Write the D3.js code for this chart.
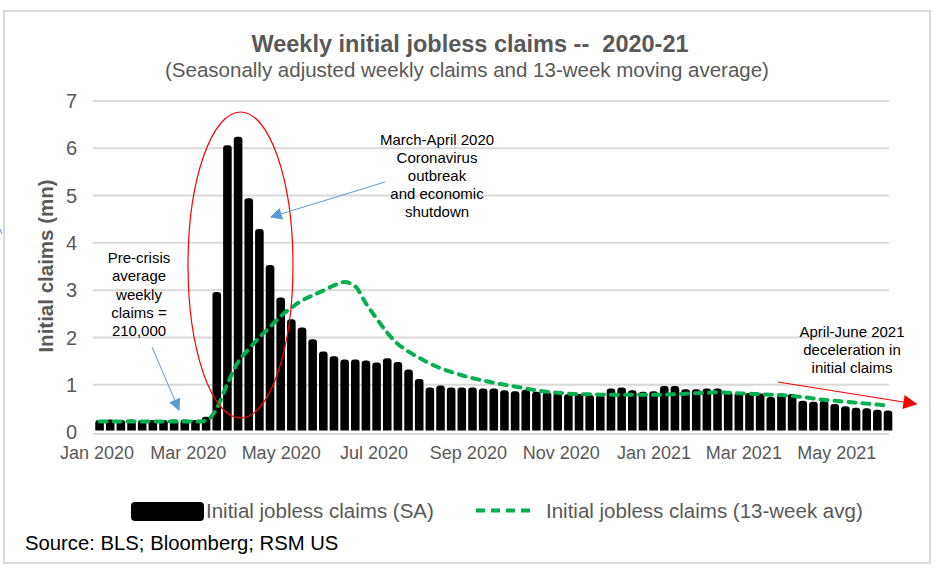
<!DOCTYPE html>
<html><head><meta charset="utf-8">
<script src="https://cdn.jsdelivr.net/npm/d3@7"></script>
<style>
html,body{margin:0;padding:0;background:#fff;}
svg{display:block;font-family:"Liberation Sans",Arial,sans-serif;}
</style></head>
<body>
<svg id="chart" width="937" height="568"></svg>
<script>
// ---- data ----
const weeks = [
"2020-01-04","2020-01-11","2020-01-18","2020-01-25","2020-02-01","2020-02-08","2020-02-15","2020-02-22","2020-02-29","2020-03-07",
"2020-03-14","2020-03-21","2020-03-28","2020-04-04","2020-04-11","2020-04-18","2020-04-25","2020-05-02","2020-05-09","2020-05-16",
"2020-05-23","2020-05-30","2020-06-06","2020-06-13","2020-06-20","2020-06-27","2020-07-04","2020-07-11","2020-07-18","2020-07-25",
"2020-08-01","2020-08-08","2020-08-15","2020-08-22","2020-08-29","2020-09-05","2020-09-12","2020-09-19","2020-09-26","2020-10-03",
"2020-10-10","2020-10-17","2020-10-24","2020-10-31","2020-11-07","2020-11-14","2020-11-21","2020-11-28","2020-12-05","2020-12-12",
"2020-12-19","2020-12-26","2021-01-02","2021-01-09","2021-01-16","2021-01-23","2021-01-30","2021-02-06","2021-02-13","2021-02-20",
"2021-02-27","2021-03-06","2021-03-13","2021-03-20","2021-03-27","2021-04-03","2021-04-10","2021-04-17","2021-04-24","2021-05-01",
"2021-05-08","2021-05-15","2021-05-22","2021-05-29","2021-06-05"];
const claimsSA = [
0.21,0.22,0.21,0.22,0.21,0.21,0.21,0.22,0.22,0.21,
0.28,2.92,6.02,6.20,4.90,4.25,3.49,2.80,2.34,2.17,
1.92,1.66,1.56,1.49,1.49,1.47,1.43,1.52,1.44,1.28,
1.08,0.90,0.94,0.90,0.90,0.90,0.88,0.88,0.84,0.82,
0.85,0.81,0.80,0.78,0.755,0.76,0.74,0.74,0.88,0.90,
0.84,0.81,0.82,0.93,0.93,0.86,0.86,0.88,0.88,0.81,
0.80,0.78,0.77,0.70,0.77,0.76,0.62,0.60,0.62,0.55,
0.50,0.47,0.46,0.43,0.41];
const claimsAvg13 = [
0.22,0.22,0.22,0.22,0.22,0.22,0.22,0.22,0.22,0.22,
0.24,0.50,1.02,1.48,1.75,2.00,2.22,2.45,2.63,2.78,
2.89,2.99,3.10,3.17,3.08,2.72,2.40,2.10,1.86,1.70,
1.57,1.45,1.35,1.27,1.20,1.14,1.09,1.04,1.00,0.96,
0.92,0.88,0.85,0.83,0.81,0.80,0.80,0.79,0.79,0.79,
0.79,0.79,0.79,0.79,0.80,0.81,0.82,0.83,0.84,0.83,
0.82,0.81,0.80,0.79,0.78,0.76,0.74,0.71,0.68,0.66,
0.64,0.62,0.60,0.58,0.55];
const yTicks = [0,1,2,3,4,5,6,7];
const xTickDates = ["2020-01-01","2020-03-01","2020-05-01","2020-07-01","2020-09-01","2020-11-01","2021-01-01","2021-03-01","2021-05-01"];
const seriesNames = ["Initial jobless claims (SA)","Initial jobless claims (13-week avg)"];

// ---- drawing ----
const parse = d3.timeParse("%Y-%m-%d");
const fmt = d3.timeFormat("%b %Y");
const svg = d3.select("#chart");
const grey = "#595959";

// outer border
svg.append("rect").attr("x",4).attr("y",11).attr("width",926).attr("height",552)
  .attr("fill","none").attr("stroke","#d9d9d9").attr("stroke-width",2);

const x = d3.scaleTime().domain([parse("2020-01-01"), parse("2021-06-05")]).range([95, 888]);
const y = d3.scaleLinear().domain([0,7]).range([432,101]);
const plotL = 93, plotR = 889;

// gridlines
svg.append("g").selectAll("line").data(yTicks.filter(d=>d>0)).join("line")
  .attr("x1",plotL).attr("x2",plotR).attr("y1",d=>y(d)).attr("y2",d=>y(d))
  .attr("stroke","#d9d9d9").attr("stroke-width",2);
// baseline
svg.append("line").attr("x1",plotL).attr("x2",plotR).attr("y1",434).attr("y2",434)
  .attr("stroke","#d9d9d9").attr("stroke-width",2);

// y tick labels
svg.append("g").selectAll("text").data(yTicks).join("text")
  .attr("x",77).attr("y",d=>y(d)).attr("dy","0.36em").attr("text-anchor","end")
  .attr("font-size",20).attr("fill",grey).text(d=>d);

// y axis title
svg.append("text").attr("transform","translate(53,266) rotate(-90)")
  .attr("text-anchor","middle").attr("font-size",20.5).attr("font-weight","bold")
  .attr("fill",grey).text("Initial claims (mn)");

// x tick labels
svg.append("g").selectAll("text").data(xTickDates).join("text")
  .attr("x",d=>x(parse(d))+2).attr("y",459).attr("text-anchor","middle")
  .attr("font-size",18).attr("fill",grey).text(d=>fmt(parse(d)));

// bars
const bw = 8.6, r = 3.2, bottom = 430.5;
svg.append("g").selectAll("path").data(weeks.map((w,i)=>({d:parse(w),v:claimsSA[i]}))).join("path")
  .attr("fill","#000")
  .attr("d",p=>{
    const cx = x(p.d), x0 = cx-bw/2, x1 = cx+bw/2, top = y(p.v)-2;
    return `M${x0},${bottom}L${x0},${top+r}Q${x0},${top} ${x0+r},${top}L${x1-r},${top}Q${x1},${top} ${x1},${top+r}L${x1},${bottom}Z`;
  });

// moving average line
const line = d3.line().x((d,i)=>x(parse(weeks[i]))).y(d=>y(d)).curve(d3.curveMonotoneX);
svg.append("path").datum(claimsAvg13).attr("d",line).attr("fill","none")
  .attr("stroke","#00b050").attr("stroke-width",4).attr("stroke-dasharray","7,7")
  .attr("stroke-linecap","round");

// defs for arrowheads
const defs = svg.append("defs");
function marker(id,color,w,h){
  defs.append("marker").attr("id",id).attr("viewBox","0 0 10 10").attr("refX",9).attr("refY",5)
    .attr("markerUnits","userSpaceOnUse").attr("markerWidth",w).attr("markerHeight",h).attr("orient","auto")
    .append("path").attr("d","M0,0L10,5L0,10Z").attr("fill",color);
}
marker("blueHead","#5b9bd5",14,12);
marker("redHead","#ff0000",16,14);

// red ellipse
svg.append("ellipse").attr("cx",240.5).attr("cy",265).attr("rx",52.5).attr("ry",153)
  .attr("fill","none").attr("stroke","#ff0000").attr("stroke-width",1.2);

// annotations
function multiline(lines,cx,y0,dy,size){
  const t = svg.append("text").attr("text-anchor","middle").attr("font-size",size).attr("fill","#000");
  lines.forEach((s,i)=>t.append("tspan").attr("x",cx).attr("y",y0+i*dy).text(s));
}
multiline(["March-April 2020","Coronavirus","outbreak","and economic","shutdown"],437,145,18,15);
multiline(["Pre-crisis","average","weekly","claims =","210,000"],139,263,18.3,15);
multiline(["April-June 2021","deceleration in","initial claims"],852,337,17.8,15);

svg.append("line").attr("x1",385).attr("y1",182).attr("x2",271).attr("y2",217)
  .attr("stroke","#5b9bd5").attr("stroke-width",1).attr("marker-end","url(#blueHead)");
svg.append("line").attr("x1",152).attr("y1",347).attr("x2",179).attr("y2",410)
  .attr("stroke","#5b9bd5").attr("stroke-width",1).attr("marker-end","url(#blueHead)");
svg.append("line").attr("x1",778).attr("y1",382).attr("x2",916).attr("y2",404)
  .attr("stroke","#ff0000").attr("stroke-width",1.2).attr("marker-end","url(#redHead)");
// clipped blue mark at left edge
svg.append("line").attr("x1",0).attr("y1",229).attr("x2",2).attr("y2",234)
  .attr("stroke","#5b9bd5").attr("stroke-width",1);

// title
svg.append("text").attr("x",470).attr("y",52).attr("text-anchor","middle")
  .attr("font-size",23.5).attr("font-weight","bold").attr("fill",grey)
  .text("Weekly initial jobless claims --\u00a0 2020-21");
svg.append("text").attr("x",467).attr("y",77).attr("text-anchor","middle")
  .attr("font-size",20.5).attr("fill",grey)
  .text("(Seasonally adjusted weekly claims and 13-week moving average)");

// legend
svg.append("rect").attr("x",131).attr("y",502).attr("width",73).attr("height",19).attr("rx",4).attr("fill","#000");
svg.append("text").attr("x",206).attr("y",518).attr("font-size",20.5).attr("fill",grey).text(seriesNames[0]);
svg.append("line").attr("x1",476).attr("x2",530).attr("y1",510.5).attr("y2",510.5)
  .attr("stroke","#00b050").attr("stroke-width",4).attr("stroke-dasharray","9,6");
svg.append("text").attr("x",546).attr("y",518).attr("font-size",20.5).attr("fill",grey).text(seriesNames[1]);

// source
svg.append("text").attr("x",25).attr("y",550).attr("font-size",20.3).attr("fill","#000")
  .text("Source: BLS; Bloomberg; RSM US");
</script>
</body></html>
